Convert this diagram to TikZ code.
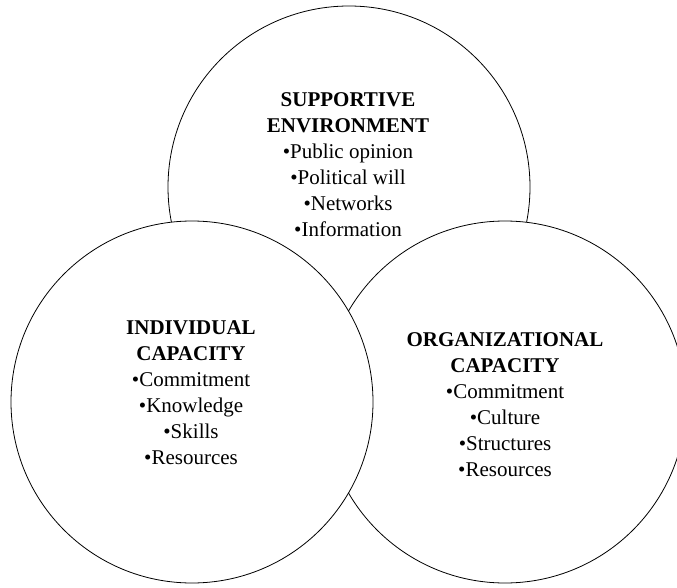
\documentclass[tikz,border=0pt]{standalone}
\usepackage{fontspec}
\setmainfont{Liberation Serif}
\usepackage{tikz}

\tikzset{
  ring/.style={draw=black,fill=white,line width=0.8pt},
  blurb/.style={align=center,inner sep=0pt,font=\fontsize{21}{26}\selectfont}
}

\begin{document}
\begin{tikzpicture}[x=1pt,y=-1pt]
        \useasboundingbox (0,0) rectangle (677,588);
        \clip (0,0) rectangle (677,588);
        % supportive environment (top), the other two sit over it
        \draw[ring] (349,187) circle (181pt);
        \node[blurb] (env) at (348,165)
          {\textbf{SUPPORTIVE}\\ \textbf{ENVIRONMENT}\\ •Public opinion\\
           •Political will\\ •Networks\\ •Information};
        % organizational capacity (right)
        \draw[ring] (505,402) circle (181pt);
        \node[blurb] (org) at (505,405)
          {\textbf{ORGANIZATIONAL}\\ \textbf{CAPACITY}\\ •Commitment\\
           •Culture\\ •Structures\\ •Resources};
        % individual capacity (left), drawn last
        \draw[ring] (192,402) circle (181pt);
        \node[blurb] (indiv) at (191,393)
          {\textbf{INDIVIDUAL}\\ \textbf{CAPACITY}\\ •Commitment\\
           •Knowledge\\ •Skills\\ •Resources};
      \end{tikzpicture}
\end{document}
